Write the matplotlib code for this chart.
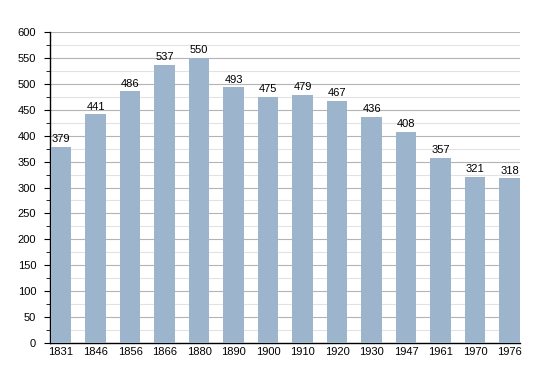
import matplotlib
matplotlib.use('Agg')
import matplotlib.pyplot as plt
import numpy as np

years = ['1831', '1846', '1856', '1866', '1880', '1890', '1900',
         '1910', '1920', '1930', '1947', '1961', '1970', '1976']
population = [379, 441, 486, 537, 550, 493, 475, 479, 467, 436, 408, 357, 321, 318]

plt.rcParams['font.family'] = ['Liberation Sans', 'DejaVu Sans']

fig = plt.figure(figsize=(5.5, 3.73), dpi=100)
ax = fig.add_axes([0.0909, 0.0804, 0.8545, 0.8338])

x = np.arange(len(years))
ax.bar(x, population, width=0.6, color='#9cb4cc', zorder=3)

for xi, v in zip(x, population):
    ax.text(xi, v + 5, str(v), ha='center', va='bottom', fontsize=8, zorder=4)

ax.set_xlim(-0.32, len(years) - 1 + 0.3)
ax.set_ylim(0, 600)
ax.set_yticks(np.arange(0, 601, 50))
ax.set_yticks(np.arange(25, 600, 50), minor=True)
ax.set_xticks(x)
ax.set_xticklabels(years)

ax.grid(axis='y', which='major', color='#b4b4b4', linewidth=0.8, zorder=0)
ax.grid(axis='y', which='minor', color='#e2e2e2', linewidth=0.8, zorder=0)

for s in ['top', 'right']:
    ax.spines[s].set_visible(False)
ax.spines['left'].set_linewidth(1)
ax.spines['bottom'].set_linewidth(1)

ax.tick_params(axis='y', which='major', length=4, labelsize=8, pad=6)
ax.tick_params(axis='y', which='minor', length=3)
ax.tick_params(axis='x', length=0, labelsize=8, pad=3)

fig.savefig('out.png', dpi=100)
